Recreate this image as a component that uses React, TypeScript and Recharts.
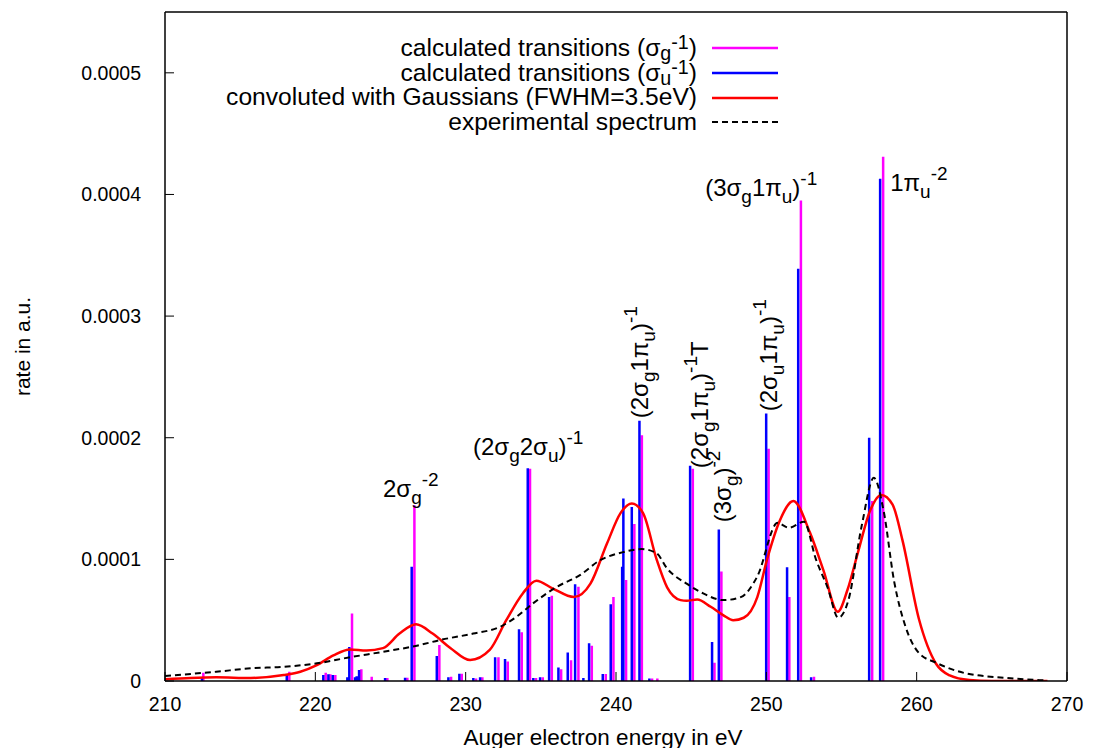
import { ComposedChart, Line, XAxis, YAxis, Legend, ReferenceDot, Label } from 'recharts';

const FONT = "'Liberation Sans', Arial, Helvetica, sans-serif";

const xTicks = [210, 220, 230, 240, 250, 260, 270];
const yTicks = [0, 0.0001, 0.0002, 0.0003, 0.0004, 0.0005];

// [energy in eV, rate in a.u.]
const sigmaG: [number, number][] = [
  [212.55, 6.8e-6], [218.27, 7.6e-6], [220.69, 6.8e-6], [221.0, 5.5e-6], [221.33, 5.0e-6],
  [222.44, 5.55e-5], [223.06, 9.6e-6], [223.75, 3.5e-6], [224.79, 2.5e-6], [226.12, 2.7e-6],
  [226.59, 1.445e-4], [228.25, 2.95e-5], [229.03, 3.5e-6], [229.74, 6.0e-6], [230.69, 2.0e-6],
  [231.11, 3.0e-6], [232.18, 1.95e-5], [232.8, 1.6e-5], [233.73, 4.0e-5], [234.28, 1.745e-4],
  [234.68, 2.5e-6], [235.13, 3.0e-6], [235.73, 7.0e-5], [236.35, 9.6e-6], [237.01, 1.7e-5],
  [237.5, 7.75e-5], [238.39, 2.9e-5], [239.32, 5.7e-6], [239.83, 6.9e-5], [240.67, 8.3e-5],
  [241.22, 1.29e-4], [241.72, 2.02e-4], [242.4, 2.0e-6], [242.75, 2.0e-6], [245.11, 1.745e-4],
  [246.55, 1.5e-5], [247.01, 9.0e-5], [250.15, 1.91e-4], [251.53, 6.9e-5], [252.3, 3.95e-4],
  [253.17, 3.5e-6], [257.04, 1.48e-4], [257.77, 4.31e-4],
];

const sigmaU: [number, number][] = [
  [212.46, 3.0e-6], [218.1, 5.0e-6], [220.53, 5.0e-6], [220.87, 5.5e-6], [221.16, 5.0e-6],
  [222.13, 3.0e-6], [222.26, 2.8e-5], [222.64, 3.0e-6], [222.75, 4.0e-6], [222.91, 9.0e-6],
  [224.64, 2.5e-6], [225.97, 2.7e-6], [226.41, 9.4e-5], [228.08, 2.05e-5], [228.85, 3.0e-6],
  [229.58, 6.0e-6], [230.51, 2.5e-6], [230.96, 3.0e-6], [231.96, 1.95e-5], [232.62, 1.8e-5],
  [233.55, 4.25e-5], [234.13, 1.75e-4], [234.5, 2.5e-6], [234.95, 3.0e-6], [235.55, 6.9e-5],
  [236.17, 1.1e-5], [236.79, 2.35e-5], [237.28, 7.95e-5], [237.83, 2.5e-6], [238.21, 3.1e-5],
  [239.12, 5.7e-6], [239.65, 6.3e-5], [240.41, 9.4e-5], [240.49, 1.5e-4], [241.05, 1.43e-4],
  [241.56, 2.14e-4], [242.22, 2.0e-6], [244.93, 1.77e-4], [246.39, 3.2e-5], [246.84, 1.245e-4],
  [249.99, 2.2e-4], [251.38, 9.35e-5], [252.12, 3.39e-4], [252.98, 3.0e-6], [256.84, 2.0e-4],
  [257.57, 4.13e-4],
];

const convoluted: [number, number][] = [
  [210.0, 1.5e-6], [211.7, 2.5e-6], [213.4, 3.0e-6], [215.7, 2.5e-6], [217.9, 4.9e-6],
  [219.0, 7.6e-6], [220.1, 1.3e-5], [221.2, 2.1e-5], [222.3, 2.6e-5], [223.4, 2.5e-5],
  [224.5, 2.7e-5], [225.6, 3.9e-5], [226.7, 4.66e-5], [227.8, 3.9e-5], [229.0, 2.7e-5],
  [230.3, 1.72e-5], [231.6, 2.55e-5], [232.7, 5.0e-5], [233.8, 7.2e-5], [234.7, 8.25e-5],
  [235.8, 7.6e-5], [237.2, 6.9e-5], [238.3, 8.0e-5], [239.4, 1.13e-4], [240.3, 1.38e-4],
  [241.05, 1.46e-4], [241.8, 1.38e-4], [242.7, 1.0e-4], [243.4, 7.7e-5], [244.3, 6.65e-5],
  [244.7, 6.6e-5], [245.4, 6.7e-5], [246.3, 6.1e-5], [247.15, 5.4e-5], [247.8, 5.0e-5],
  [248.5, 5.2e-5], [249.4, 6.9e-5], [250.05, 1.0e-4], [250.9, 1.32e-4], [251.8, 1.48e-4],
  [252.9, 1.22e-4], [253.8, 9.1e-5], [254.75, 5.7e-5], [255.4, 7.5e-5], [256.1, 1.06e-4],
  [256.9, 1.4e-4], [257.65, 1.53e-4], [258.4, 1.45e-4], [259.05, 1.16e-4], [260.15, 5.1e-5],
  [261.3, 1.4e-5], [262.2, 4.6e-6], [263.5, 8e-7], [265.0, 0], [268.7, 0],
];

const experimental: [number, number][] = [
  [210.0, 4.1e-6], [213.4, 7.6e-6], [215.7, 1.04e-5], [217.9, 1.17e-5], [220.1, 1.45e-5],
  [222.3, 1.95e-5], [224.5, 2.4e-5], [226.75, 2.9e-5], [228.3, 3.37e-5], [230.5, 3.9e-5],
  [232.3, 4.46e-5], [233.4, 5.3e-5], [234.5, 6.4e-5], [236.06, 7.74e-5], [237.6, 8.7e-5],
  [238.9, 9.9e-5], [240.5, 1.06e-4], [241.7, 1.085e-4], [242.7, 1.05e-4], [243.4, 9.25e-5],
  [244.7, 8.0e-5], [245.8, 7.2e-5], [247.15, 6.65e-5], [248.3, 6.9e-5], [249.4, 8.6e-5],
  [250.75, 1.3e-4], [251.5, 1.26e-4], [252.5, 1.31e-4], [253.3, 1.0e-4], [254.1, 7.6e-5],
  [254.78, 5.2e-5], [255.45, 6.6e-5], [256.35, 1.28e-4], [257.15, 1.67e-4], [257.8, 1.4e-4],
  [258.5, 8.2e-5], [259.25, 4.5e-5], [260.15, 2.3e-5], [261.3, 1.5e-5], [263.2, 6.5e-6],
  [266.0, 2.5e-6], [268.5, 5e-7],
];

type Part = { t: string; s?: 'sub' | 'sup' };

// peak assignments, anchored in data coordinates
const annotations: { e: number; rate: number; vertical: boolean; parts: Part[] }[] = [
  { e: 224.5, rate: 1.51e-4, vertical: false, parts: [{ t: '2σ' }, { t: 'g', s: 'sub' }, { t: '-2', s: 'sup' }] },
  { e: 230.49, rate: 1.855e-4, vertical: false, parts: [{ t: '(2σ' }, { t: 'g', s: 'sub' }, { t: '2σ' }, { t: 'u', s: 'sub' }, { t: ')' }, { t: '-1', s: 'sup' }] },
  { e: 242.14, rate: 2.16e-4, vertical: true, parts: [{ t: '(2σ' }, { t: 'g', s: 'sub' }, { t: '1π' }, { t: 'u', s: 'sub' }, { t: ')' }, { t: '-1', s: 'sup' }] },
  { e: 246.13, rate: 1.75e-4, vertical: true, parts: [{ t: '(2σ' }, { t: 'g', s: 'sub' }, { t: '1π' }, { t: 'u', s: 'sub' }, { t: ')' }, { t: '-1', s: 'sup' }, { t: 'T' }] },
  { e: 247.66, rate: 1.305e-4, vertical: true, parts: [{ t: '(3σ' }, { t: 'g', s: 'sub' }, { t: ')' }, { t: '-2', s: 'sup' }] },
  { e: 250.72, rate: 2.217e-4, vertical: true, parts: [{ t: '(2σ' }, { t: 'u', s: 'sub' }, { t: '1π' }, { t: 'u', s: 'sub' }, { t: ')' }, { t: '-1', s: 'sup' }] },
  { e: 245.93, rate: 3.99e-4, vertical: false, parts: [{ t: '(3σ' }, { t: 'g', s: 'sub' }, { t: '1π' }, { t: 'u', s: 'sub' }, { t: ')' }, { t: '-1', s: 'sup' }] },
  { e: 258.24, rate: 4.03e-4, vertical: false, parts: [{ t: '1π' }, { t: 'u', s: 'sub' }, { t: '-2', s: 'sup' }] },
];

const legendText: Record<string, Part[]> = {
  sg: [{ t: 'calculated transitions (σ' }, { t: 'g', s: 'sub' }, { t: '-1', s: 'sup' }, { t: ')' }],
  su: [{ t: 'calculated transitions (σ' }, { t: 'u', s: 'sub' }, { t: '-1', s: 'sup' }, { t: ')' }],
  conv: [{ t: 'convoluted with Gaussians (FWHM=3.5eV)' }],
  exp: [{ t: 'experimental spectrum' }],
};

const names: Record<string, string> = {
  sg: 'calculated transitions (σg-1)',
  su: 'calculated transitions (σu-1)',
  conv: 'convoluted with Gaussians (FWHM=3.5eV)',
  exp: 'experimental spectrum',
};

// every transition becomes a vertical stroke from zero, broken off by a null
const impulses = (lines: [number, number][]) =>
  lines.flatMap(([e, rate]) => [{ e, rate: 0 }, { e, rate }, { e, rate: null }]);
const curve = (pts: [number, number][]) => pts.map(([e, rate]) => ({ e, rate }));

const SIZE = 24;
const SMALL = 19;

const Annotation = ({ cx, cy, vertical, parts }: any) => {
  let level = 0;
  return (
    <text
      x={cx}
      y={cy}
      transform={vertical ? `rotate(-90 ${cx} ${cy})` : undefined}
      fontFamily={FONT}
      fontSize={SIZE}
      fill="#000"
    >
      {parts.map((p: Part, i: number) => {
        const target = p.s === 'sub' ? 7 : p.s === 'sup' ? -11 : 0;
        const dy = target - level;
        level = target;
        return (
          <tspan key={i} dy={dy} fontSize={p.s ? SMALL : SIZE}>
            {p.t}
          </tspan>
        );
      })}
    </text>
  );
};

const RichText = ({ parts }: { parts: Part[] }) => (
  <span>
    {parts.map((p, i) =>
      p.s ? (
        <span
          key={i}
          style={{
            fontSize: '0.8em',
            lineHeight: 1,
            display: 'inline-block',
            position: 'relative',
            top: p.s === 'sub' ? '0.2em' : '-0.36em',
          }}
        >
          {p.t}
        </span>
      ) : (
        <span key={i}>{p.t}</span>
      )
    )}
  </span>
);

const renderLegend = ({ payload }: any) => {
  const keyOf = (value: string) => Object.keys(names).find((k) => names[k] === value) ?? 'exp';
  return (
    <div style={{ fontFamily: FONT, fontSize: 24.6, color: '#000' }}>
      {(payload ?? []).map((entry: any) => {
        const key = keyOf(entry.value);
        return (
          <div key={key} style={{ display: 'flex', justifyContent: 'flex-end', alignItems: 'center', height: 24.7, lineHeight: '24.7px', whiteSpace: 'nowrap' }}>
            <RichText parts={legendText[key]} />
            <svg width={66} height={4} style={{ marginLeft: 15 }}>
              <line
                x1={0}
                x2={66}
                y1={2}
                y2={2}
                stroke={entry.color}
                strokeWidth={key === 'exp' ? 2 : 2.5}
                strokeDasharray={key === 'exp' ? '6 4' : undefined}
              />
            </svg>
          </div>
        );
      })}
    </div>
  );
};

const YTitle = ({ viewBox }: any) => {
  const x = viewBox.x + 14;
  const y = viewBox.y + viewBox.height / 2;
  return (
    <text x={x} y={y} transform={`rotate(-90 ${x} ${y})`} textAnchor="middle" dominantBaseline="central" fontFamily={FONT} fontSize={21} fill="#000">
      rate in a.u.
    </text>
  );
};

const XTitle = ({ viewBox }: any) => (
  <text x={viewBox.x + viewBox.width / 2 - 13} y={viewBox.y + 64} textAnchor="middle" fontFamily={FONT} fontSize={22.5} fill="#000">
    Auger electron energy in eV
  </text>
);

const tickStyle = { fill: '#000', fontSize: 19.5, fontFamily: FONT };
const frame = { stroke: '#000', strokeWidth: 1.5 };
const tickLine = { stroke: '#000', strokeWidth: 1 };

export default function App() {
  return (
    <div style={{ width: 1077, height: 748, marginBottom: -8 }}>
      <ComposedChart width={1077} height={748} margin={{ top: 3, right: 17, bottom: 0, left: 0 }}>
        <XAxis
          dataKey="e"
          type="number"
          domain={[210, 270]}
          ticks={xTicks}
          interval={0}
          allowDataOverflow
          height={75}
          tickSize={-9}
          tickMargin={25}
          tick={tickStyle}
          axisLine={frame}
          tickLine={tickLine}
        >
          <Label content={XTitle} />
        </XAxis>
        {/* mirrored frame: top and right axes carry inward ticks only */}
        <XAxis
          xAxisId="top"
          orientation="top"
          type="number"
          domain={[210, 270]}
          ticks={xTicks}
          interval={0}
          height={1}
          tickSize={-9}
          tickFormatter={() => ''}
          axisLine={frame}
          tickLine={tickLine}
        />
        <YAxis
          type="number"
          domain={[0, 0.00055]}
          ticks={yTicks}
          interval={0}
          allowDataOverflow
          width={157}
          tickSize={-9}
          tickMargin={33}
          tick={tickStyle}
          tickFormatter={(v: number) => (v === 0 ? '0' : v.toFixed(4))}
          axisLine={frame}
          tickLine={tickLine}
        >
          <Label content={YTitle} />
        </YAxis>
        <YAxis
          yAxisId="right"
          orientation="right"
          type="number"
          domain={[0, 0.00055]}
          ticks={yTicks}
          interval={0}
          width={1}
          tickSize={-9}
          tickFormatter={() => ''}
          axisLine={frame}
          tickLine={tickLine}
        />

        <Line
          data={impulses(sigmaG)}
          dataKey="rate"
          name={names.sg}
          type="linear"
          stroke="#ff00ff"
          strokeWidth={2.5}
          dot={false}
          activeDot={false}
          connectNulls={false}
          isAnimationActive={false}
        />
        <Line
          data={impulses(sigmaU)}
          dataKey="rate"
          name={names.su}
          type="linear"
          stroke="#0000ff"
          strokeWidth={2.5}
          dot={false}
          activeDot={false}
          connectNulls={false}
          isAnimationActive={false}
        />
        <Line
          data={curve(convoluted)}
          dataKey="rate"
          name={names.conv}
          type="monotone"
          stroke="#ff0000"
          strokeWidth={2.5}
          dot={false}
          activeDot={false}
          isAnimationActive={false}
        />
        <Line
          data={curve(experimental)}
          dataKey="rate"
          name={names.exp}
          type="monotone"
          stroke="#000000"
          strokeWidth={2}
          strokeDasharray="6 4"
          dot={false}
          activeDot={false}
          isAnimationActive={false}
        />

        {annotations.map((a, i) => (
          <ReferenceDot
            key={i}
            x={a.e}
            y={a.rate}
            r={0}
            ifOverflow="visible"
            shape={(p: any) => <Annotation cx={p.cx} cy={p.cy} vertical={a.vertical} parts={a.parts} />}
          />
        ))}

        <Legend
          verticalAlign="middle"
          align="center"
          wrapperStyle={{ left: 0, top: 28, width: 770 }}
          content={renderLegend}
        />
      </ComposedChart>
    </div>
  );
}
